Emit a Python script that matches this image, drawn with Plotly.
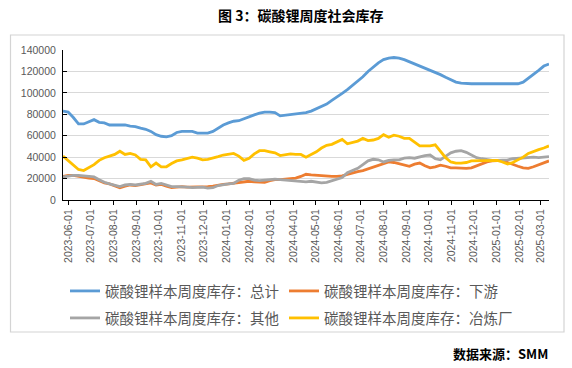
import pandas as pd
import plotly.graph_objects as go

# Weekly dates (Thursdays)
dates = pd.date_range("2023-05-25", periods=95, freq="7D")

total = [83, 82, 77, 71, 71, 73, 75, 72.5, 72, 70, 70, 70, 70, 69, 68.5, 67, 66, 64, 61, 59.5,
         59, 60, 63, 64, 64, 64, 62.5, 62.5, 62.5, 64, 67, 70, 72, 73.5, 74, 76, 78, 79.5, 81, 82,
         82, 81.5, 78.5, 79, 79.5, 80, 80.5, 81.5, 83, 85, 87, 89.5, 93, 96, 99.5, 103, 107, 111, 115, 120,
         124, 128, 131, 132.5, 133, 132.5, 131, 129, 127.5, 125.5, 123, 121, 119, 117, 114.5, 112, 110, 109, 108.5, 108.5,
         108.5, 108.5, 108, 108.5, 108.5, 108.5, 108.5, 108.5, 108.5, 110, 113.5, 117, 121, 125, 127]

downstream = [22, 23, 23, 22, 21, 20.5, 20, 18, 16, 15, 13, 11.5, 13, 14, 13.5, 14.5, 15.5, 16, 14, 14.5,
              13, 11.5, 12, 12.5, 12, 12, 12, 12.5, 12.5, 13, 14, 14.5, 15, 15.5, 16, 17, 17.5, 17, 17, 16.5,
              18, 19, 19, 19.5, 20, 20.5, 22, 24, 23.5, 23, 23, 22.5, 22, 22, 22.5, 24, 25.5, 26.5, 27.5, 29,
              30.5, 32, 33.5, 35.5, 35, 34, 32.5, 31.5, 33.5, 34.5, 32, 30, 31, 32.5, 31.5, 30, 30, 29.5, 29.5, 30,
              32, 34, 35.5, 36.5, 37, 37, 35, 33, 31.5, 30, 29.5, 31, 33, 35, 36.5]

other = [21.5, 22.5, 23, 23, 22.5, 22, 21.5, 19, 16.5, 15, 13.5, 12.5, 14, 14.5, 14, 15, 15.5, 17.5, 14.5, 15.5,
         14, 12.5, 12.5, 12.5, 12, 11.5, 12, 12, 11, 11.5, 13.5, 14.5, 15, 15.5, 18.5, 20, 20, 18.5, 18, 18.5,
         19, 19.5, 19, 18.5, 18, 17.5, 17, 17, 17.5, 17, 16, 16.5, 18, 19.5, 21, 25.5, 27.5, 29.5, 33, 36.5,
         38, 37.5, 35.5, 37, 37.5, 37.5, 39, 39.5, 39, 40.5, 41.5, 42, 38.5, 37.5, 41, 44, 45.5, 46, 44.5, 42,
         39.5, 38.5, 37.5, 37, 37, 37, 37.5, 38.5, 39, 39, 39.5, 40, 39.5, 40, 40.5]

smelter = [41, 37, 33, 28.5, 27.5, 30.5, 33, 37, 39.5, 41, 42.5, 45.5, 42.5, 43.5, 42, 38, 37.5, 31, 34.5, 31,
           31, 34, 36.5, 37.5, 39, 40, 39, 37.5, 38, 39, 40.5, 42, 42.5, 43.5, 41, 37, 39, 43, 46, 46,
           45, 44, 41.5, 42, 43, 42.5, 42.5, 40, 42.5, 45, 48.5, 51, 52, 54, 56.5, 52.5, 53.5, 55, 57.5, 55.5,
           56, 57.5, 61, 58.5, 60.5, 59.5, 57.5, 57.5, 54, 50.5, 50.5, 50.5, 51.5, 45.5, 39.5, 35.5, 34.5, 34.5, 35, 36.5,
           36.5, 36.5, 36.5, 36.5, 37, 35.5, 33.5, 35, 37.5, 40, 43.5, 45.5, 47, 48.5, 50.5]

series_names = ["碳酸锂样本周度库存：总计", "碳酸锂样本周度库存：下游",
                "碳酸锂样本周度库存：其他", "碳酸锂样本周度库存：冶炼厂"]
series_values = [total, downstream, other, smelter]
colors = ["#5b9bd5", "#ed7d31", "#a5a5a5", "#ffc000"]

tick_labels = ["2023-06-01", "2023-07-01", "2023-08-01", "2023-09-01", "2023-10-01", "2023-11-01",
               "2023-12-01", "2024-01-01", "2024-02-01", "2024-03-01", "2024-04-01", "2024-05-01",
               "2024-06-01", "2024-07-01", "2024-08-01", "2024-09-01", "2024-10-01", "2024-11-01",
               "2024-12-01", "2025-01-01", "2025-02-01", "2025-03-01"]

W, H = 572, 368
PL, PR, PT, PB = 63, 549, 50, 200  # plot area in px


def fx(px):
    return (px - PL) / (PR - PL)


def fy(py):
    return (PB - py) / (PB - PT)


CJK = "Noto Sans CJK SC"
fig = go.Figure()
legend_ids = ["legend", "legend2", "legend3", "legend4"]
for name, vals, col, lid in zip(series_names, series_values, colors, legend_ids):
    fig.add_trace(go.Scatter(
        x=dates, y=[v * 1000 for v in vals], mode="lines", name=name,
        line=dict(color=col, width=2.8), legend=lid, hoverinfo="skip"))

leg_common = dict(orientation="h", bgcolor="rgba(0,0,0,0)", borderwidth=0,
                  font=dict(family=CJK, size=14.5, color="#595959"),
                  xanchor="left", yanchor="middle", itemwidth=30)
legend_pos = [(65, 291), (284, 291), (65, 318), (284, 318)]
legend_layout = {}
for lid, (lx, ly) in zip(legend_ids, legend_pos):
    legend_layout[lid] = dict(leg_common, x=fx(lx), y=fy(ly))

fig.update_layout(
    width=W, height=H,
    margin=dict(l=PL, r=W - PR, t=PT, b=H - PB),
    paper_bgcolor="white", plot_bgcolor="white",
    showlegend=True,
    xaxis=dict(
        type="date",
        range=[dates[0], dates[-1]],
        tickvals=tick_labels, ticktext=tick_labels,
        tickangle=-90,
        tickfont=dict(family="Liberation Sans", size=10.5, color="#595959"),
        showgrid=False, zeroline=False,
        showline=True, linecolor="black", linewidth=1,
        ticks="outside", ticklen=4, tickcolor="black",
    ),
    yaxis=dict(
        range=[0, 140000], tickvals=[0, 20000, 40000, 60000, 80000, 100000, 120000, 140000],
        tickformat="d",
        tickfont=dict(family="Liberation Sans", size=10.5, color="#595959"),
        showgrid=True, gridcolor="#d9d9d9", gridwidth=1,
        zeroline=False,
        showline=True, linecolor="black", linewidth=1,
        ticks="inside", ticklen=4, tickcolor="black",
        ticklabelstandoff=4,
    ),
    shapes=[dict(type="rect", xref="paper", yref="paper",
                 x0=fx(10.5), x1=fx(564), y0=fy(332), y1=fy(35),
                 line=dict(color="#d4d4d4", width=1.2), fillcolor="rgba(0,0,0,0)", layer="below")],
    annotations=[
        dict(text="<b>图 3：碳酸锂周度社会库存</b>", xref="paper", yref="paper",
             x=fx(300), y=fy(15), xanchor="center", yanchor="middle", showarrow=False,
             font=dict(family=CJK, size=14, color="black")),
        dict(text="<b>数据来源：SMM</b>", xref="paper", yref="paper",
             x=fx(550), y=fy(353), xanchor="right", yanchor="middle", showarrow=False,
             font=dict(family=CJK, size=13, color="black")),
    ],
    **legend_layout,
)

fig.write_html("out.html",
               config={"displayModeBar": False, "staticPlot": True},
               post_script="document.body.style.margin='0px';document.body.style.padding='0px';")
